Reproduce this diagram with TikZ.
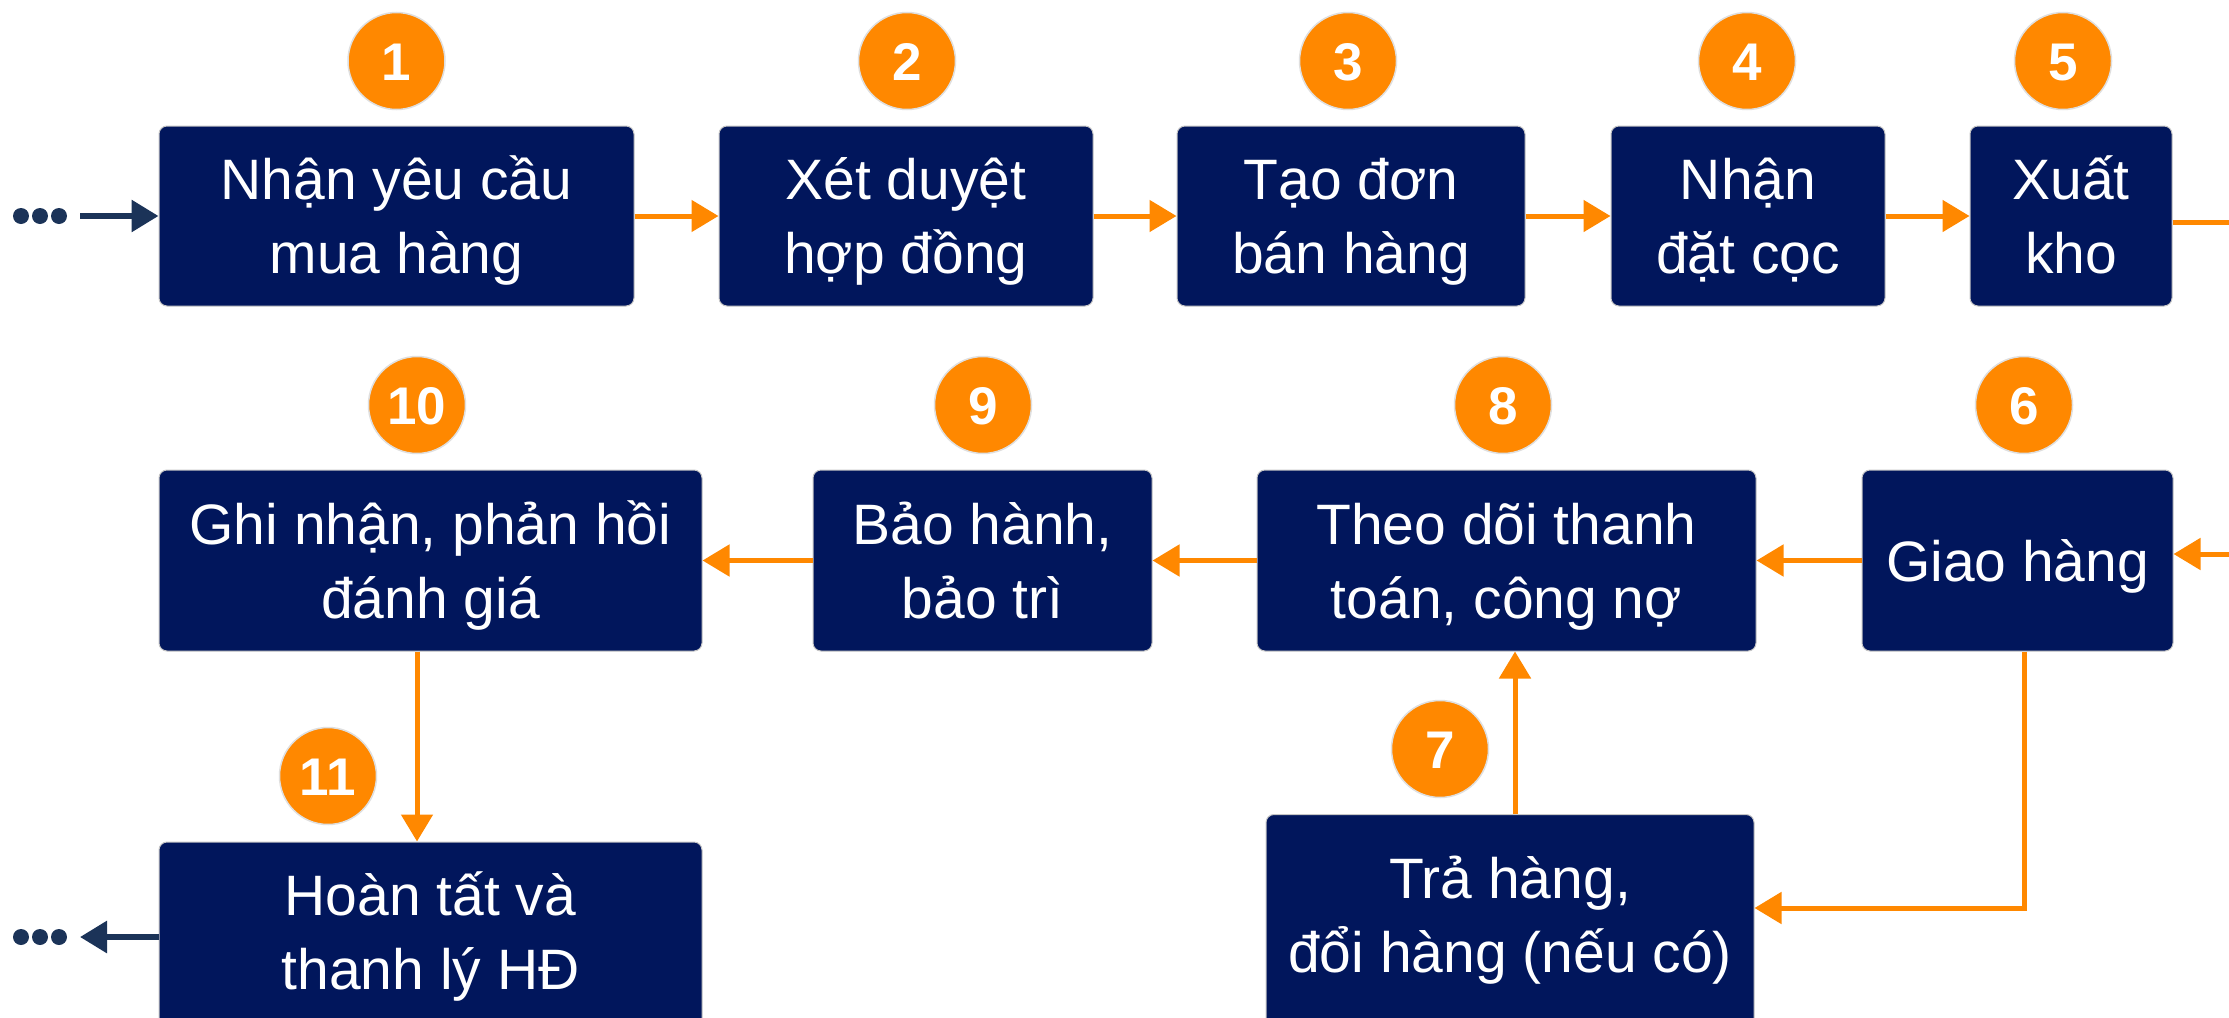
\documentclass[tikz,border=0pt]{standalone}
\usepackage{fontspec}
\setmainfont{Liberation Sans}
\usetikzlibrary{arrows.meta,calc}
\definecolor{navy}{RGB}{1,22,92}
\definecolor{orng}{RGB}{255,136,0}
\definecolor{dark}{RGB}{27,51,88}
\newcommand\twol[2]{\vtop{\baselineskip=74pt\lineskiplimit=-1000pt\lineskip=0pt\halign{\hfil##\hfil\cr#1\cr#2\cr}}}
\begin{document}
\begin{tikzpicture}[x=1pt,y=-1pt,
  stepbox/.style={rectangle, rounded corners=8pt, fill=navy, draw=gray!45, line width=1pt, text=white, inner sep=0pt, font=\fontsize{57}{74}\selectfont, text height=41pt, text depth=74pt},
  onebox/.style={stepbox, text depth=0pt},
  num/.style={circle, fill=orng, draw=gray!25, line width=1.5pt, minimum size=97pt, inner sep=0pt, text=white, font=\fontsize{53}{60}\selectfont\bfseries, text height=38pt, text depth=0pt},
  oarr/.style={draw=orng, line width=5pt, -{Triangle[length=27pt,width=31pt]}},
  oline/.style={draw=orng, line width=5pt},
  darr/.style={draw=dark, line width=6pt, -{Triangle[length=27pt,width=31pt]}},
]
\useasboundingbox (0,0) rectangle (2229,1017);
\clip (0,0) rectangle (2229,1017);
\fill[white] (0,0) rectangle (2229,1017);

% boxes
\node[stepbox, minimum width=475pt, minimum height=180pt] (b1) at (396.5,216) {\twol{Nhận yêu cầu}{mua hàng}};
\node[stepbox, minimum width=374pt, minimum height=180pt] (b2) at (906,216) {\twol{Xét duyệt}{hợp đồng}};
\node[stepbox, minimum width=348pt, minimum height=180pt] (b3) at (1351,216) {\twol{Tạo đơn}{bán hàng}};
\node[stepbox, minimum width=274pt, minimum height=180pt] (b4) at (1748,216) {\twol{Nhận}{đặt cọc}};
\node[stepbox, minimum width=202pt, minimum height=180pt] (b5) at (2071,216) {\twol{Xuất}{kho}};
\node[onebox, minimum width=311pt, minimum height=181pt] (b6) at (2017.5,560.5) {Giao hàng};
\node[stepbox, minimum width=499pt, minimum height=181pt] (b8) at (1506.5,560.5) {\twol{Theo dõi thanh}{toán, công nợ}};
\node[stepbox, minimum width=339pt, minimum height=181pt] (b9) at (982.5,560.5) {\twol{Bảo hành,}{bảo trì}};
\node[stepbox, minimum width=543pt, minimum height=181pt] (b10) at (430.5,560.5) {\twol{Ghi nhận, phản hồi}{đánh giá}};
\node[stepbox, minimum width=543pt, minimum height=200pt, text depth=94pt] (b11) at (430.5,942) {\twol{Hoàn tất và}{thanh lý HĐ}};
\node[stepbox, minimum width=488pt, minimum height=220pt, text depth=94pt] (b7) at (1510,924.5) {\twol{Trả hàng,}{đổi hàng (nếu có)}};

% number badges
\node[num] (c1) at (396.5,61) {1};
\node[num] (c2) at (907,61) {2};
\node[num] (c3) at (1348,61) {3};
\node[num] (c4) at (1747,61) {4};
\node[num] (c5) at (2063,61) {5};
\node[num] (c6) at (2024,405) {6};
\node[num] (c8) at (1503,405) {8};
\node[num] (c9) at (983,405) {9};
\node[num] (c10) at (417,405) {10};
\node[num] (c7) at (1440,749) {7};
\node[num] (c11) at (328,776) {11};

% entry and exit
\fill[dark] (21,216) circle (8pt) (40,216) circle (8pt) (59,216) circle (8pt);
\coordinate (inA) at (80,216);
\draw[darr] (inA) -- (b1.west);
\fill[dark] (21,937) circle (8pt) (40,937) circle (8pt) (59,937) circle (8pt);
\coordinate (outB) at (80,937);
\draw[darr] (b11.west |- outB) -- (outB);

% row 1
\draw[oarr] (b1.east) -- (b2.west);
\draw[oarr] (b2.east) -- (b3.west);
\draw[oarr] (b3.east) -- (b4.west);
\draw[oarr] (b4.east) -- (b5.west);
\coordinate (r1) at (2240,222);
\draw[oline] (b5.east |- r1) -- (r1);
\coordinate (r2) at (2240,554);
\draw[oarr] (r2) -- (r2 -| b6.east);

% row 2
\draw[oarr] (b6.west) -- (b8.east);
\draw[oarr] (b8.west) -- (b9.east);
\draw[oarr] (b9.west) -- (b10.east);
\draw[oarr] (c10 |- b10.south) -- (c10 |- b11.north);

% return branch
\coordinate (k) at (2024,908);
\draw[oarr] (c6 |- b6.south) -- (k) -- (k -| b7.east);
\coordinate (u) at (1515,0);
\draw[oarr] (u |- b7.north) -- (u |- b8.south);
\end{tikzpicture}
\end{document}
